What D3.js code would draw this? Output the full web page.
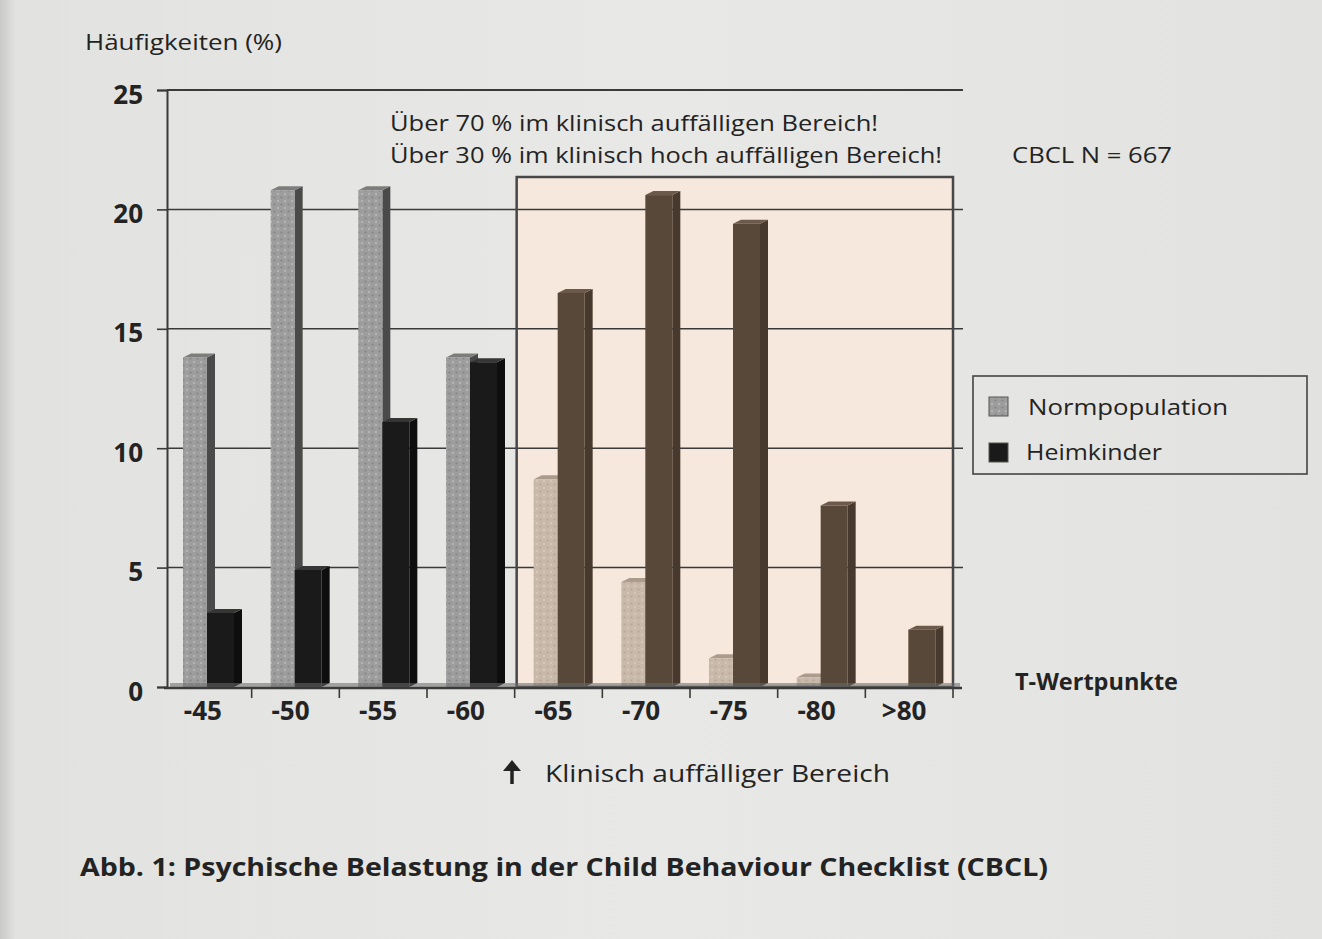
<!DOCTYPE html>
<html>
<head>
<meta charset="utf-8">
<script src="https://cdn.jsdelivr.net/npm/d3@7/dist/d3.min.js"></script>
<style>
  html, body { margin: 0; padding: 0; background: #e4e4e2; }
  svg { display: block; }
  text { font-family: "Open Sans", "Noto Sans", sans-serif; fill: #232323; }
</style>
</head>
<body>
<svg id="chart" width="1322" height="939"></svg>
<script>
// ---- data ----
const categories = ["-45", "-50", "-55", "-60", "-65", "-70", "-75", "-80", ">80"];
const normpopulation = [13.8, 20.8, 20.8, 13.8, 8.7, 4.4, 1.2, 0.4, 0];
const heimkinder = [3.1, 4.9, 11.1, 13.6, 16.5, 20.6, 19.4, 7.6, 2.4];
const yTicks = [0, 5, 10, 15, 20, 25];
const clinicalFrom = "-65";
const seriesNames = ["Normpopulation", "Heimkinder"];

const svg = d3.select("#chart");
const W = 1322, H = 939;

// background paper
const defs = svg.append("defs");
const bg = defs.append("linearGradient").attr("id", "paper").attr("x1", 0).attr("x2", 1).attr("y1", 0).attr("y2", 0);
bg.append("stop").attr("offset", "0").attr("stop-color", "#c9c9c7");
bg.append("stop").attr("offset", "0.012").attr("stop-color", "#e2e2e0");
bg.append("stop").attr("offset", "0.5").attr("stop-color", "#e8e8e6");
bg.append("stop").attr("offset", "1").attr("stop-color", "#e2e2e0");
svg.append("rect").attr("width", W).attr("height", H).attr("fill", "url(#paper)");

// dotted texture for normpopulation bars
function dotPattern(id, base, dark, light) {
  const p = defs.append("pattern").attr("id", id).attr("width", 7).attr("height", 7)
    .attr("patternUnits", "userSpaceOnUse");
  p.append("rect").attr("width", 7).attr("height", 7).attr("fill", base);
  p.append("circle").attr("cx", 1.5).attr("cy", 1.5).attr("r", 1.1).attr("fill", dark);
  p.append("circle").attr("cx", 5).attr("cy", 5).attr("r", 1.2).attr("fill", light);
}
dotPattern("grayDots", "#9d9d9d", "#858585", "#b4b4b4");
dotPattern("tanDots", "#c8b9aa", "#b6a798", "#d5c8ba");

// ---- scales ----
const x = d3.scaleBand().domain(categories).range([164, 953]).paddingInner(0).paddingOuter(0);
const y = d3.scaleLinear().domain([0, 25]).range([687, 90]);
const bw = x.bandwidth();
const axisX = 167, wallRight = 963;
const isClinical = c => categories.indexOf(c) >= categories.indexOf(clinicalFrom);

// clinical region box fill
const boxX0 = x(clinicalFrom) + 2, boxX1 = x.range()[1], boxTop = 177;
svg.append("rect").attr("x", boxX0).attr("y", boxTop).attr("width", boxX1 - boxX0).attr("height", y(0) - boxTop)
  .attr("fill", "#f6e8dc");

// gridlines
svg.append("g").selectAll("line").data(yTicks.filter(d => d > 0)).join("line")
  .attr("x1", axisX).attr("x2", wallRight)
  .attr("y1", d => y(d)).attr("y2", d => y(d))
  .attr("stroke", "#3a3a3a").attr("stroke-width", d => d === 25 ? 1.8 : 1.5);

// ---- 3D bars ----
const dx = 8, dy = 4;
const series = [
  { key: "n", values: normpopulation, off: 19, w: 24 },
  { key: "h", values: heimkinder, off: 43, w: 27 }
];
const colors = {
  n: { front: "url(#grayDots)", side: "#4a4a4a", top: "#7d7d7d" },
  nC: { front: "url(#tanDots)", side: "#958575", top: "#ab9b8c" },
  h: { front: "#1a1a1a", side: "#0e0e0e", top: "#363636" },
  hC: { front: "#584839", side: "#47392d", top: "#6b5a4b" }
};
const barsG = svg.append("g");
series.forEach(s => {
  const data = categories.map((c, i) => ({ c, v: s.values[i] })).filter(d => d.v > 0);
  const g = barsG.append("g").selectAll("g").data(data).join("g");
  const col = d => colors[s.key + (isClinical(d.c) ? "C" : "")];
  g.append("path").attr("d", d => {
    const x0 = x(d.c) + s.off, x1 = x0 + s.w, yt = y(d.v), yb = y(0);
    return `M${x1},${yt} L${x1 + dx},${yt - dy} L${x1 + dx},${yb - dy} L${x1},${yb} Z`;
  }).attr("fill", d => col(d).side);
  g.append("path").attr("d", d => {
    const x0 = x(d.c) + s.off, x1 = x0 + s.w, yt = y(d.v);
    return `M${x0},${yt} L${x0 + dx},${yt - dy} L${x1 + dx},${yt - dy} L${x1},${yt} Z`;
  }).attr("fill", d => col(d).top);
  g.append("rect")
    .attr("x", d => x(d.c) + s.off).attr("y", d => y(d.v))
    .attr("width", s.w).attr("height", d => y(0) - y(d.v))
    .attr("fill", d => col(d).front);
});

// clinical box border
svg.append("rect").attr("x", boxX0).attr("y", boxTop).attr("width", boxX1 - boxX0).attr("height", y(0) - boxTop)
  .attr("fill", "none").attr("stroke", "#474747").attr("stroke-width", 2.5);

// ---- axes ----
const yAxis = svg.append("g").attr("transform", `translate(${axisX},0)`)
  .call(d3.axisLeft(y).tickValues(yTicks).tickSize(10).tickPadding(14));
yAxis.select(".domain").attr("stroke", "#3a3a3a").attr("stroke-width", 2);
yAxis.selectAll(".tick line").attr("stroke", "#3a3a3a").attr("stroke-width", 1.6);
yAxis.selectAll(".tick text").attr("font-size", 26).attr("font-weight", 700)
  .attr("dy", "0.5em").style("font-family", "'Open Sans', sans-serif").attr("fill", "#1e1e1e");

// x axis baseline
svg.append("line").attr("x1", 164).attr("x2", 962).attr("y1", y(0) + 1).attr("y2", y(0) + 1)
  .attr("stroke", "#3a3a3a").attr("stroke-width", 2.5);
// floor shadow
svg.append("rect").attr("x", 170).attr("y", y(0) - 4).attr("width", 790).attr("height", 4)
  .attr("fill", "#6a6a6a").attr("opacity", 0.55);

const xAxis = svg.append("g").attr("transform", `translate(-5,${y(0) + 1})`)
  .call(d3.axisBottom(x).tickSize(0).tickPadding(14));
xAxis.select(".domain").remove();
xAxis.selectAll(".tick text").attr("font-size", 26).attr("font-weight", 700)
  .style("font-family", "'Open Sans', sans-serif").attr("fill", "#1e1e1e");

// separator ticks at band boundaries
svg.append("g").selectAll("line").data(categories).join("line")
  .attr("x1", d => x(d) + bw).attr("x2", d => x(d) + bw)
  .attr("y1", y(0) + 1).attr("y2", y(0) + 11)
  .attr("stroke", "#3a3a3a").attr("stroke-width", 1.6);

// ---- texts ----
svg.append("text").attr("x", 85).attr("y", 50).attr("font-size", 22).attr("textLength", 197)
  .attr("lengthAdjust", "spacingAndGlyphs").text("Häufigkeiten (%)");
svg.append("text").attr("x", 390).attr("y", 131).attr("font-size", 21).attr("font-weight", 500).attr("textLength", 488)
  .attr("lengthAdjust", "spacingAndGlyphs").text("Über 70 % im klinisch auffälligen Bereich!");
svg.append("text").attr("x", 390).attr("y", 163).attr("font-size", 21).attr("font-weight", 500).attr("textLength", 552)
  .attr("lengthAdjust", "spacingAndGlyphs").text("Über 30 % im klinisch hoch auffälligen Bereich!");
svg.append("text").attr("x", 1012).attr("y", 163).attr("font-size", 21).attr("font-weight", 500).attr("textLength", 160)
  .attr("lengthAdjust", "spacingAndGlyphs").text("CBCL N = 667");
svg.append("text").attr("x", 1015).attr("y", 690).attr("font-size", 24).attr("font-weight", 700)
  .attr("textLength", 163).attr("lengthAdjust", "spacingAndGlyphs").text("T-Wertpunkte");

// arrow + clinical label
svg.append("path").attr("d", "M512,784 L512,768").attr("stroke", "#222").attr("stroke-width", 3.5);
svg.append("path").attr("d", "M503,771 L512,760 L521,771 Z").attr("fill", "#222");
svg.append("text").attr("x", 545).attr("y", 782).attr("font-size", 24).attr("font-weight", 500).attr("textLength", 345)
  .attr("lengthAdjust", "spacingAndGlyphs").text("Klinisch auffälliger Bereich");

// caption
svg.append("text").attr("x", 80).attr("y", 876).attr("font-size", 25).attr("font-weight", 700)
  .attr("textLength", 968).attr("lengthAdjust", "spacingAndGlyphs")
  .text("Abb. 1: Psychische Belastung in der Child Behaviour Checklist (CBCL)");

// ---- legend ----
const lg = svg.append("g");
lg.append("rect").attr("x", 973).attr("y", 376).attr("width", 334).attr("height", 98)
  .attr("fill", "none").attr("stroke", "#444").attr("stroke-width", 1.6);
const legendFill = ["url(#grayDots)", "#1a1a1a"];
const legendText = [1028, 1026];
seriesNames.forEach((name, i) => {
  lg.append("rect").attr("x", 989).attr("y", 397 + i * 46).attr("width", 19).attr("height", 19)
    .attr("fill", legendFill[i]).attr("stroke", "#555").attr("stroke-width", 1);
  lg.append("text").attr("x", legendText[i]).attr("y", 415 + i * 45).attr("font-size", 22).attr("font-weight", 500)
    .attr("textLength", i === 0 ? 200 : 136).attr("lengthAdjust", "spacingAndGlyphs").text(name);
});
</script>
</body>
</html>
